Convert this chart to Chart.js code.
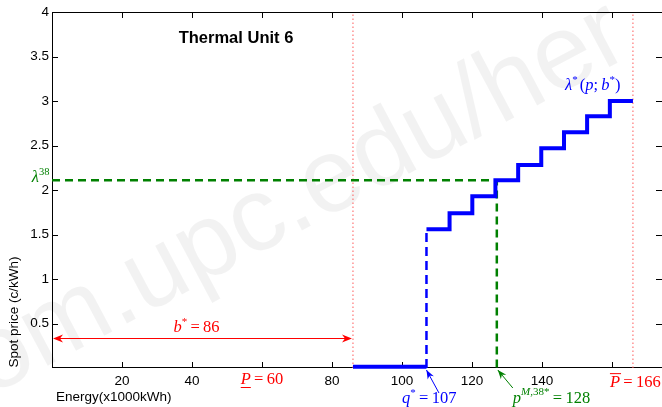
<!DOCTYPE html>
<html><head><meta charset="utf-8">
<script src="https://cdn.jsdelivr.net/npm/chart.js@4"></script>
<style>html,body{margin:0;padding:0;background:#fff}canvas{display:block}</style>
</head><body>
<canvas id="c" width="662" height="407"></canvas>
<script>
// ---- data ----
const stepX = [107, 113.6, 120.1, 126.7, 133.2, 139.8, 146.3, 152.9, 159.4, 166];
const stepY = [1.56, 1.74, 1.93, 2.11, 2.28, 2.47, 2.65, 2.83, 3.00, 3.00];
const zeroSegX = [86, 107];
const zeroSegY = [0.015, 0.015];
const bStar = 86, qStar = 107, pMLine = 127.1, lambda38 = 2.11, pMin = 60, pMax = 166, bArrowY = 0.34;
const xTickVals = [20, 40, 60, 80, 100, 120, 140, 160];
const xTickLabels = ['20', '40', '', '80', '100', '120', '140', ''];
const yTickVals = [0.5, 1, 1.5, 2, 2.5, 3, 3.5, 4];
const yTickLabels = ['0.5', '1', '1.5', '2', '2.5', '3', '3.5', '4'];
const xMin = 0, xMax = 174.3, yMin = 0, yMax = 4;

const SANS = '"Liberation Sans", Arial, Helvetica, sans-serif';
const SERIF = '"Liberation Serif", "DejaVu Serif", serif';
const BLUE = '#0000ff', GREEN = '#008000', RED = '#ff0000', REDDOT = '#ff5a5a';

function pts(xs, ys) { return xs.map((x, i) => ({ x, y: ys[i] })); }

function rfont(p) { return (p.it ? 'italic ' : '') + (p.sz || 16.5) + 'px ' + SERIF; }
function drawRich(ctx, parts, x, y, align, color) {
  let w = 0; const ms = [];
  for (const p of parts) { ctx.font = rfont(p); const m = ctx.measureText(p.t).width; ms.push(m); w += m + (p.dx || 0); }
  let cx = align === 'center' ? x - w / 2 : align === 'right' ? x - w : x;
  ctx.save();
  ctx.fillStyle = color; ctx.strokeStyle = color; ctx.lineWidth = 1;
  ctx.textAlign = 'left'; ctx.textBaseline = 'alphabetic';
  parts.forEach((p, i) => {
    cx += p.dx || 0;
    ctx.font = rfont(p);
    ctx.fillText(p.t, cx, y + (p.dy || 0));
    const sz = p.sz || 16.5;
    if (p.under) { ctx.beginPath(); ctx.moveTo(cx, y + 3.5); ctx.lineTo(cx + ms[i], y + 3.5); ctx.stroke(); }
    if (p.over) { ctx.beginPath(); ctx.moveTo(cx, y - sz * 0.78); ctx.lineTo(cx + ms[i] + 1, y - sz * 0.78); ctx.stroke(); }
    cx += ms[i];
  });
  ctx.restore();
}
function arrowHead(ctx, tx, ty, fx, fy, len, half, color) {
  const a = Math.atan2(ty - fy, tx - fx);
  ctx.save();
  ctx.translate(tx, ty); ctx.rotate(a);
  ctx.fillStyle = color;
  ctx.beginPath(); ctx.moveTo(0, 0); ctx.lineTo(-len, -half); ctx.lineTo(-len * 0.7, 0); ctx.lineTo(-len, half); ctx.closePath(); ctx.fill();
  ctx.restore();
}
function arrow(ctx, fx, fy, tx, ty, color, len, half) {
  ctx.save(); ctx.strokeStyle = color; ctx.lineWidth = 1;
  ctx.beginPath(); ctx.moveTo(fx, fy); ctx.lineTo(tx, ty); ctx.stroke(); ctx.restore();
  arrowHead(ctx, tx, ty, fx, fy, len, half, color);
}

const decor = {
  id: 'decor',
  beforeDraw(chart) {
    const ctx = chart.ctx;
    ctx.save();
    ctx.fillStyle = '#fff'; ctx.fillRect(0, 0, chart.width, chart.height);
    // faint watermark
    ctx.translate(-24, 371); ctx.rotate(-28 * Math.PI / 180);
    ctx.font = '105px ' + SANS; ctx.fillStyle = 'rgba(0,0,0,0.05)';
    ctx.textBaseline = 'middle'; ctx.textAlign = 'left';
    ctx.fillText('om.upc.edu/her', 0, 0);
    ctx.restore();
  },
  beforeDatasetsDraw(chart) {
    const ctx = chart.ctx, a = chart.chartArea, xs = chart.scales.x, ys = chart.scales.y;
    ctx.save();
    ctx.strokeStyle = '#000'; ctx.lineWidth = 1;
    ctx.strokeRect(Math.round(a.left) + 0.5, Math.round(a.top) + 0.5, Math.round(a.right - a.left), Math.round(a.bottom - a.top) - 1);
    ctx.beginPath();
    const tl = 6;
    xTickVals.forEach(v => {
      const px = Math.round(xs.getPixelForValue(v)) + 0.5;
      ctx.moveTo(px, a.bottom); ctx.lineTo(px, a.bottom - tl);
      ctx.moveTo(px, a.top); ctx.lineTo(px, a.top + tl);
    });
    yTickVals.forEach(v => {
      const py = Math.round(ys.getPixelForValue(v)) + 0.5;
      ctx.moveTo(a.left, py); ctx.lineTo(a.left + tl, py);
      ctx.moveTo(a.right, py); ctx.lineTo(a.right - tl, py);
    });
    ctx.stroke();
    ctx.restore();
  },
  afterDatasetsDraw(chart) {
    const ctx = chart.ctx, a = chart.chartArea, xs = chart.scales.x, ys = chart.scales.y;
    // b* double arrow
    const ay = Math.round(ys.getPixelForValue(bArrowY)) + 0.5;
    const x0 = xs.getPixelForValue(0) + 1, x1 = xs.getPixelForValue(bStar) - 1;
    ctx.save(); ctx.strokeStyle = RED; ctx.lineWidth = 1;
    ctx.beginPath(); ctx.moveTo(x0 + 4, ay); ctx.lineTo(x1 - 4, ay); ctx.stroke(); ctx.restore();
    arrowHead(ctx, x0, ay, x0 + 20, ay, 10, 4, RED);
    arrowHead(ctx, x1, ay, x1 - 20, ay, 10, 4, RED);
    drawRich(ctx, [{ t: 'b', it: true }, { t: '*', sz: 11, dy: -7 }, { t: '\u2009=\u200986' }],
      xs.getPixelForValue(bStar / 2) - 6, ay - 7, 'center', RED);

    // title
    ctx.save();
    ctx.fillStyle = '#000'; ctx.font = 'bold 16.5px ' + SANS; ctx.textAlign = 'center'; ctx.textBaseline = 'alphabetic';
    ctx.fillText('Thermal Unit 6', 236, 43);
    // axis titles
    ctx.font = '13.5px ' + SANS; ctx.textAlign = 'left';
    ctx.fillText('Energy(x1000kWh)', 56, 401);
    ctx.translate(18, 312); ctx.rotate(-Math.PI / 2); ctx.textAlign = 'center';
    ctx.fillText('Spot price (c/kWh)', 0, 0);
    ctx.restore();

    // lambda^38
    drawRich(ctx, [{ t: 'λ', it: true }, { t: '38', sz: 10.5, dy: -7 }], 49.5, Math.round(ys.getPixelForValue(lambda38)) + 1.5, 'right', GREEN);
    // lambda*(p;b*)
    drawRich(ctx, [{ t: 'λ', it: true }, { t: '*', sz: 11, dy: -7 }, { t: '(', dx: 2 }, { t: 'p', it: true }, { t: ';\u2009' }, { t: 'b', it: true }, { t: '*', sz: 11, dy: -7 }, { t: ')' }],
      565, 90, 'left', BLUE);

    // bottom annotations
    drawRich(ctx, [{ t: 'P', it: true, under: true }, { t: '\u2009=\u200960' }], xs.getPixelForValue(pMin), 384, 'center', RED);
    drawRich(ctx, [{ t: 'P', it: true, over: true }, { t: '\u2009=\u2009166' }], xs.getPixelForValue(pMax) - 23, 386.5, 'left', RED);

    const qx = xs.getPixelForValue(qStar);
    drawRich(ctx, [{ t: 'q', it: true }, { t: '*', sz: 11, dy: -7 }, { t: '\u2009=\u2009107' }], qx - 24.5, 403, 'left', BLUE);
    arrow(ctx, qx + 12.5, 393, qx, a.bottom + 2, BLUE, 9, 3.5);

    const gx = xs.getPixelForValue(pMLine);
    drawRich(ctx, [{ t: 'p', it: true }, { t: 'M', it: true, sz: 11, dy: -8 }, { t: ',38*', sz: 11, dy: -8 }, { t: '\u2009=\u2009128' }], gx + 16, 402.5, 'left', GREEN);
    arrow(ctx, gx + 16, 388, gx + 1, a.bottom + 2, GREEN, 9, 3.5);
  }
};

const line = (data, color, width, dash, extra) => Object.assign({
  data, borderColor: color, borderWidth: width, borderDash: dash || [], pointRadius: 0,
  fill: false, tension: 0, borderCapStyle: 'butt', borderJoinStyle: 'miter'
}, extra || {});

new Chart(document.getElementById('c'), {
  type: 'line',
  data: {
    datasets: [
      line(pts(stepX, stepY), BLUE, 4, null, { stepped: 'before', order: 0, clip: false }),
      line(pts(zeroSegX, zeroSegY), BLUE, 4, null, { order: 1, clip: false }),
      line(pts([qStar, qStar], [0, stepY[0]]), BLUE, 2.5, [9, 5], { order: 2 }),
      line(pts([0, pMLine, pMLine], [lambda38, lambda38, 0]), GREEN, 2.5, [8, 5], { order: 3 }),
      line(pts([bStar, bStar], [yMin, yMax]), REDDOT, 1, [1.5, 2.5], { order: 4 }),
      line(pts([pMax, pMax], [yMin, yMax]), REDDOT, 1, [1.5, 2.5], { order: 5 })
    ]
  },
  options: {
    responsive: false, animation: false, devicePixelRatio: 1,
    layout: { padding: { left: 0, right: 0, top: 12, bottom: 0 } },
    plugins: { legend: { display: false }, tooltip: { enabled: false }, title: { display: false } },
    scales: {
      x: {
        type: 'linear', min: xMin, max: xMax,
        grid: { display: false, drawTicks: false }, border: { display: false },
        afterBuildTicks: s => { s.ticks = xTickVals.map(v => ({ value: v })); },
        afterFit: s => { s.height = 39; },
        ticks: { autoSkip: false, maxRotation: 0, padding: 5, color: '#000', font: { family: SANS, size: 13.5 },
          callback: (v, i) => xTickLabels[i] }
      },
      y: {
        type: 'linear', min: yMin, max: yMax,
        grid: { display: false, drawTicks: false }, border: { display: false },
        afterBuildTicks: s => { s.ticks = yTickVals.map(v => ({ value: v })); },
        afterFit: s => { s.width = 52; },
        ticks: { autoSkip: false, padding: 3, color: '#000', font: { family: SANS, size: 13.5 },
          callback: (v, i) => yTickLabels[i] }
      }
    }
  },
  plugins: [decor]
});
</script>
</body></html>
